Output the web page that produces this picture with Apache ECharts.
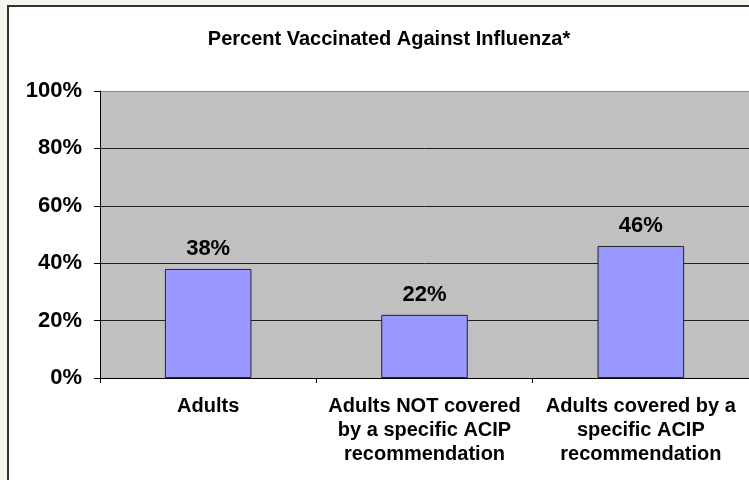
<!DOCTYPE html>
<html>
<head>
<meta charset="utf-8">
<script src="https://cdn.jsdelivr.net/npm/echarts@6/dist/echarts.min.js"></script>
<style>
  html, body { margin: 0; padding: 0; background: #F5F4EF; }
  #chart { width: 749px; height: 480px; }
</style>
</head>
<body>
<div id="chart"></div>
<script>
// data
var titleText = 'Percent Vaccinated Against Influenza*';
var categories = ['Adults', 'Adults NOT covered\nby a specific ACIP\nrecommendation', 'Adults covered by a\nspecific ACIP\nrecommendation'];
var percents = [38, 22, 46];
var yTicks = [0, 20, 40, 60, 80, 100];

var chart = echarts.init(document.getElementById('chart'));

var option = {
    backgroundColor: '#F5F4EF',
    animation: false,
    // white frame round the chart
    graphic: [{
        type: 'rect',
        z: -10,
        shape: { x: 8, y: 6, width: 800, height: 520 },
        style: { fill: '#FFFFFF', stroke: '#333333', lineWidth: 2 }
    }],
    title: {
        text: titleText,
        left: 384,
        textAlign: 'center',
        top: 24,
        textStyle: { fontFamily: 'Arial, "Liberation Sans"', fontWeight: 'bold', fontSize: 20, color: '#000' }
    },
    grid: {
        left: 100, top: 91, right: 0, bottom: 102,
        show: true,
        backgroundColor: '#C0C0C0',
        borderWidth: 0
    },
    xAxis: {
        type: 'category',
        data: categories,
        axisLine: { lineStyle: { color: '#000', width: 1 } },
        axisTick: { show: true, length: 5, lineStyle: { color: '#000' } },
        axisLabel: {
            margin: 16,
            interval: 0,
            lineHeight: 24,
            fontFamily: 'Arial, "Liberation Sans"',
            fontWeight: 'bold',
            fontSize: 20,
            color: '#000'
        }
    },
    yAxis: {
        type: 'value',
        min: yTicks[0],
        max: yTicks[yTicks.length - 1],
        interval: 20,
        axisLine: { show: true, lineStyle: { color: '#000', width: 1 } },
        axisTick: { show: true, length: 6, lineStyle: { color: '#000' } },
        splitLine: { show: true, lineStyle: { color: ['#000', '#222', '#222', '#222', '#222', '#888'], width: 1 } },
        axisLabel: {
            margin: 18,
            padding: [5, 0, 0, 0],
            fontFamily: 'Arial, "Liberation Sans"',
            fontWeight: 'bold',
            fontSize: 22,
            color: '#000',
            formatter: '{value}%'
        }
    },
    series: [{
        type: 'bar',
        data: percents,
        barWidth: '40%',
        itemStyle: { color: '#9999FF', borderColor: '#222', borderWidth: 1 },
        label: {
            show: true,
            position: 'top',
            distance: 9,
            formatter: '{c}%',
            fontFamily: 'Arial, "Liberation Sans"',
            fontWeight: 'bold',
            fontSize: 22,
            color: '#000'
        }
    }]
};

chart.setOption(option);
</script>
</body>
</html>
